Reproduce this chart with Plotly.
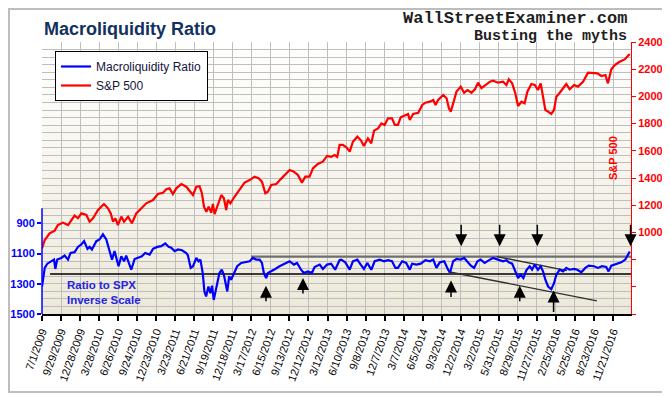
import plotly.graph_objects as go
from datetime import datetime

# ---------------- data ----------------
x_tick_labels = ["7/1/2009", "9/29/2009", "12/28/2009", "3/28/2010", "6/26/2010", "9/24/2010",
                 "12/23/2010", "3/23/2011", "6/21/2011", "9/19/2011", "12/18/2011", "3/17/2012",
                 "6/15/2012", "9/13/2012", "12/12/2012", "3/12/2013", "6/10/2013", "9/8/2013",
                 "12/7/2013", "3/7/2014", "6/5/2014", "9/3/2014", "12/2/2014", "3/2/2015",
                 "5/31/2015", "8/29/2015", "11/27/2015", "2/25/2016", "5/25/2016", "8/23/2016",
                 "11/21/2016"]

ratio_tick_vals = [900, 1100, 1300, 1500]
spx_tick_vals = [400, 600, 800, 1000, 1200, 1400, 1600, 1800, 2000, 2200, 2400]
spx_tick_text = ["", "", "", "1000", "1200", "1400", "1600", "1800", "2000", "2200", "2400"]

spx_dates = [
    "2009-07-01", "2009-07-14", "2009-08-06", "2009-08-30", "2009-09-14", "2009-10-08", "2009-11-01",
    "2009-11-16", "2009-12-02", "2009-12-18", "2010-01-03", "2010-01-27", "2010-02-11", "2010-02-27",
    "2010-03-23", "2010-04-20", "2010-05-09", "2010-05-22", "2010-06-02", "2010-06-13", "2010-06-25",
    "2010-07-11", "2010-07-24", "2010-08-12", "2010-08-30", "2010-09-20", "2010-10-14", "2010-11-06",
    "2010-12-08", "2010-12-31", "2011-01-24", "2011-02-09", "2011-02-24", "2011-03-12", "2011-03-28",
    "2011-04-21", "2011-05-14", "2011-06-04", "2011-06-15", "2011-07-01", "2011-07-16", "2011-07-27",
    "2011-08-06", "2011-08-17", "2011-08-28", "2011-09-09", "2011-09-17", "2011-09-25", "2011-10-11",
    "2011-10-27", "2011-11-08", "2011-11-19", "2011-11-27", "2011-12-09", "2011-12-28", "2012-01-21",
    "2012-02-14", "2012-03-09", "2012-04-01", "2012-04-20", "2012-05-06", "2012-05-22", "2012-06-03",
    "2012-06-19", "2012-07-13", "2012-08-02", "2012-08-24", "2012-09-14", "2012-10-04", "2012-10-23",
    "2012-11-11", "2012-11-27", "2012-12-17", "2013-01-02", "2013-01-25", "2013-02-18", "2013-03-10",
    "2013-03-29", "2013-04-14", "2013-04-27", "2013-05-08", "2013-05-24", "2013-06-09", "2013-06-25",
    "2013-07-10", "2013-07-31", "2013-08-16", "2013-08-31", "2013-09-19", "2013-10-05", "2013-10-18",
    "2013-11-06", "2013-11-22", "2013-12-07", "2013-12-23", "2014-01-11", "2014-01-24", "2014-02-08",
    "2014-02-21", "2014-03-09", "2014-03-28", "2014-04-05", "2014-04-21", "2014-05-15", "2014-06-03",
    "2014-06-18", "2014-07-09", "2014-07-25", "2014-08-05", "2014-08-17", "2014-09-10", "2014-09-26",
    "2014-10-07", "2014-10-16", "2014-10-27", "2014-11-12", "2014-12-02", "2014-12-18", "2015-01-03",
    "2015-01-22", "2015-02-07", "2015-02-22", "2015-03-10", "2015-04-03", "2015-04-19", "2015-05-04",
    "2015-05-27", "2015-06-20", "2015-07-06", "2015-07-17", "2015-08-02", "2015-08-17", "2015-08-30",
    "2015-09-15", "2015-09-30", "2015-10-13", "2015-11-01", "2015-11-17", "2015-12-02", "2015-12-15",
    "2015-12-26", "2016-01-06", "2016-01-19", "2016-02-03", "2016-02-16", "2016-02-27", "2016-03-14",
    "2016-03-30", "2016-04-14", "2016-04-30", "2016-05-21", "2016-06-08", "2016-07-02", "2016-07-26",
    "2016-08-18", "2016-09-08", "2016-09-27", "2016-10-16", "2016-10-28", "2016-11-13", "2016-11-29",
    "2016-12-22", "2017-01-15", "2017-02-08"]
spx_values = [
    883, 944, 993, 1013, 1054, 1072, 1054,
    1091, 1123, 1104, 1140, 1128, 1079, 1104,
    1165, 1209, 1177, 1140, 1079, 1104, 1054,
    1116, 1079, 1116, 1067, 1140, 1177, 1214,
    1238, 1282, 1292, 1317, 1324, 1282, 1324,
    1356, 1336, 1299, 1275, 1336, 1340, 1288,
    1189, 1152, 1189, 1145, 1209, 1135, 1201,
    1275, 1251, 1165, 1238, 1214, 1262, 1312,
    1366, 1385, 1410, 1398, 1373, 1288, 1299,
    1349, 1356, 1390, 1422, 1459, 1447, 1422,
    1366, 1410, 1410, 1471, 1503, 1520, 1562,
    1555, 1569, 1555, 1643, 1643, 1626, 1594,
    1667, 1704, 1679, 1635, 1692, 1655, 1748,
    1765, 1802, 1790, 1839, 1839, 1790, 1790,
    1846, 1856, 1871, 1826, 1871, 1880, 1937,
    1954, 1961, 1974, 1937, 1974, 2010, 1986,
    1912, 1888, 1949, 2035, 2072, 2027, 2047,
    2027, 2052, 2101, 2060, 2091, 2108, 2116,
    2101, 2108, 2084, 2126, 2096, 2023, 1929,
    1961, 1949, 2035, 2091, 2084, 2047, 2096,
    2010, 1900, 1888, 1871, 1900, 1998, 2027,
    2060, 2091, 2052, 2084, 2072, 2108, 2175,
    2175, 2170, 2150, 2157, 2096, 2199, 2231,
    2255, 2272, 2312]

ratio_dates = [
    "2009-07-01", "2009-07-06", "2009-07-14", "2009-07-26", "2009-08-11", "2009-08-27", "2009-09-02",
    "2009-09-11", "2009-09-30", "2009-10-16", "2009-11-01", "2009-11-13", "2009-12-02", "2009-12-18",
    "2010-01-03", "2010-01-16", "2010-02-01", "2010-02-11", "2010-02-22", "2010-03-15", "2010-03-30",
    "2010-04-15", "2010-05-01", "2010-05-17", "2010-05-28", "2010-06-09", "2010-06-22", "2010-06-28",
    "2010-07-11", "2010-07-24", "2010-08-03", "2010-08-14", "2010-08-27", "2010-09-12", "2010-09-28",
    "2010-10-16", "2010-11-01", "2010-11-22", "2010-12-08", "2010-12-28", "2011-01-16", "2011-02-04",
    "2011-02-20", "2011-03-04", "2011-03-20", "2011-04-05", "2011-04-24", "2011-05-14", "2011-05-22",
    "2011-06-04", "2011-06-15", "2011-07-01", "2011-07-11", "2011-07-20", "2011-07-31", "2011-08-08",
    "2011-08-16", "2011-08-27", "2011-09-05", "2011-09-13", "2011-09-21", "2011-10-02", "2011-10-18",
    "2011-10-29", "2011-11-08", "2011-11-24", "2011-12-03", "2011-12-12", "2011-12-25", "2012-01-10",
    "2012-01-29", "2012-02-17", "2012-03-09", "2012-03-24", "2012-04-09", "2012-04-25", "2012-05-06",
    "2012-05-15", "2012-05-26", "2012-06-03", "2012-06-19", "2012-07-08", "2012-07-28", "2012-08-21",
    "2012-09-14", "2012-10-04", "2012-10-19", "2012-11-07", "2012-11-20", "2012-12-09", "2012-12-28",
    "2013-01-10", "2013-02-03", "2013-02-18", "2013-03-10", "2013-03-29", "2013-04-17", "2013-05-08",
    "2013-05-16", "2013-06-04", "2013-06-25", "2013-07-10", "2013-07-31", "2013-08-16", "2013-08-31",
    "2013-09-16", "2013-10-05", "2013-10-21", "2013-11-14", "2013-12-04", "2013-12-23", "2014-01-11",
    "2014-01-27", "2014-02-08", "2014-02-28", "2014-03-19", "2014-04-05", "2014-04-16", "2014-05-06",
    "2014-05-27", "2014-06-18", "2014-07-09", "2014-07-25", "2014-08-09", "2014-08-25", "2014-09-15",
    "2014-10-03", "2014-10-13", "2014-10-27", "2014-11-12", "2014-12-02", "2014-12-18", "2015-01-03",
    "2015-01-19", "2015-02-03", "2015-02-19", "2015-03-06", "2015-03-25", "2015-04-19", "2015-05-04",
    "2015-05-27", "2015-06-20", "2015-07-06", "2015-07-17", "2015-08-02", "2015-08-17", "2015-08-30",
    "2015-09-11", "2015-09-24", "2015-10-08", "2015-10-24", "2015-11-04", "2015-11-17", "2015-12-02",
    "2015-12-15", "2015-12-26", "2016-01-06", "2016-01-19", "2016-02-03", "2016-02-16", "2016-02-27",
    "2016-03-14", "2016-03-30", "2016-04-14", "2016-04-30", "2016-05-21", "2016-06-05", "2016-06-24",
    "2016-07-13", "2016-07-29", "2016-08-23", "2016-09-11", "2016-09-30", "2016-10-20", "2016-10-31",
    "2016-11-13", "2016-12-07", "2016-12-30", "2017-01-18", "2017-02-08"]
ratio_values = [
    1318, 1273, 1195, 1167, 1151, 1140, 1202,
    1140, 1129, 1113, 1140, 1096, 1091, 1056,
    1040, 1018, 1069, 1056, 1073, 1018, 1007,
    973, 1007, 1096, 1140, 1084, 1151, 1184,
    1118, 1151, 1113, 1151, 1207, 1136, 1129,
    1118, 1096, 1107, 1069, 1056, 1051, 1033,
    1056, 1062, 1084, 1073, 1078, 1096, 1113,
    1195, 1184, 1129, 1151, 1140, 1229, 1351,
    1384, 1318, 1362, 1313, 1407, 1340, 1229,
    1207, 1240, 1351, 1251, 1273, 1229, 1184,
    1162, 1158, 1151, 1129, 1140, 1140, 1162,
    1229, 1262, 1229, 1218, 1202, 1184, 1167,
    1151, 1173, 1162, 1207, 1229, 1218, 1229,
    1189, 1173, 1202, 1173, 1167, 1207, 1144,
    1140, 1158, 1207, 1151, 1140, 1173, 1202,
    1162, 1207, 1151, 1140, 1151, 1144, 1151,
    1195, 1195, 1151, 1162, 1207, 1167, 1173,
    1167, 1144, 1151, 1140, 1195, 1158, 1151,
    1207, 1224, 1151, 1136, 1140, 1129, 1158,
    1180, 1195, 1151, 1140, 1162, 1140, 1129,
    1140, 1151, 1144, 1158, 1167, 1218, 1262,
    1240, 1262, 1211, 1184, 1207, 1173, 1207,
    1184, 1218, 1273, 1318, 1336, 1296, 1240,
    1207, 1218, 1195, 1207, 1202, 1207, 1224,
    1195, 1180, 1184, 1195, 1184, 1189, 1218,
    1180, 1167, 1158, 1140, 1087]

# hand-drawn reference lines (in ratio units)
support_dates = ["2009-08-08", "2017-02-14"]
support_values = [1235, 1235]
resist_dates = ["2012-03-15", "2017-02-14"]
resist_values = [1120, 1120]
lower_trend_dates = ["2014-10-04", "2016-09-06"]
lower_trend_values = [1220, 1413]
upper_trend_dates = ["2015-05-22", "2016-04-17"]
upper_trend_values = [1120, 1213]

down_arrow_dates = ["2014-12-04", "2015-06-04", "2015-11-29", "2017-02-12"]
down_arrow_values = [1051, 1051, 1051, 1051]
up_arrow_dates = ["2012-05-25", "2012-11-16", "2014-10-17", "2015-09-07", "2016-02-14"]
up_arrow_values = [1313, 1262, 1278, 1313, 1345]

# ---------------- figure ----------------
FONT = "Arial, Liberation Sans, sans-serif"
fig = go.Figure()

fig.add_trace(go.Scatter(x=resist_dates, y=resist_values, mode="lines", yaxis="y",
                         line=dict(color="#6E6E6E", width=2.2), showlegend=False, hoverinfo="skip"))
fig.add_trace(go.Scatter(x=support_dates, y=support_values, mode="lines", yaxis="y",
                         line=dict(color="black", width=1.4), showlegend=False, hoverinfo="skip"))
fig.add_trace(go.Scatter(x=lower_trend_dates, y=lower_trend_values, mode="lines", yaxis="y",
                         line=dict(color="#303030", width=1.4), showlegend=False, hoverinfo="skip"))
fig.add_trace(go.Scatter(x=upper_trend_dates, y=upper_trend_values, mode="lines", yaxis="y",
                         line=dict(color="#303030", width=1.4), showlegend=False, hoverinfo="skip"))

fig.add_trace(go.Scatter(x=ratio_dates, y=ratio_values, mode="lines", name="Macroliquidity Ratio",
                         yaxis="y", line=dict(color="#0000FF", width=2.2)))
fig.add_trace(go.Scatter(x=spx_dates, y=spx_values, mode="lines", name="S&P 500",
                         yaxis="y2", line=dict(color="#FF0000", width=2.2)))

# page offset: the html body adds an 8px margin, layout numbers below are page pixels
OFF = 8
PL, PR, PT, PB = 42, 631, 42, 314          # plot area in page pixels
PW, PH = PR - PL, PB - PT


def px(xp):
    return (xp - PL) / PW


def py(yp):
    return (PB - yp) / PH


shapes = []
N = 30
top = (255, 255, 255)
bot = (237, 233, 217)
for i in range(N):
    t = (i + 0.5) / N
    c = tuple(round(top[k] + (bot[k] - top[k]) * t) for k in range(3))
    shapes.append(dict(type="rect", xref="paper", yref="paper", x0=0, x1=1,
                       y0=1 - (i + 1) / N, y1=1 - i / N, layer="below",
                       fillcolor="rgb(%d,%d,%d)" % c, line=dict(width=0)))
# left (ratio) axis line, only over the labelled part
shapes.append(dict(type="line", xref="paper", yref="y", x0=0, x1=0, y0=800, y1=1500,
                   line=dict(color="#0000FF", width=1.5)))
# outer frame
shapes.append(dict(type="rect", xref="paper", yref="paper",
                   x0=px(9), x1=px(664), y0=py(392), y1=py(9),
                   line=dict(color="#BDBDBD", width=2), fillcolor="rgba(0,0,0,0)"))

annotations = []
for d, v in zip(down_arrow_dates, down_arrow_values):
    annotations.append(dict(x=d, y=v, xref="x", yref="y", text="", showarrow=True,
                            ax=0, ay=-23, arrowhead=2, arrowsize=1.6, arrowwidth=1.5,
                            arrowcolor="black"))
for d, v, off in zip(up_arrow_dates, up_arrow_values, [17, 17, 18, 17, 23]):
    annotations.append(dict(x=d, y=v, xref="x", yref="y", text="", showarrow=True,
                            ax=0, ay=off, arrowhead=2, arrowsize=1.6, arrowwidth=1.5,
                            arrowcolor="black"))

annotations.append(dict(text="<b>Ratio to SPX<br>Inverse Scale</b>", xref="paper", yref="paper",
                        x=px(65), y=py(292.5), xanchor="left", yanchor="middle",
                        align="left", showarrow=False,
                        font=dict(family=FONT, size=11.5, color="#2424E0")))
annotations.append(dict(text="<b>S&P 500</b>", xref="paper", yref="paper",
                        x=px(613), y=py(158), xanchor="center", yanchor="middle",
                        textangle=-90, showarrow=False,
                        font=dict(family=FONT, size=11, color="#FF0000")))
annotations.append(dict(text="<b>WallStreetExaminer.com</b>", xref="paper", yref="paper",
                        x=px(629), y=py(18), xanchor="right", yanchor="middle",
                        showarrow=False,
                        font=dict(family="Liberation Mono, DejaVu Sans Mono, monospace", size=17,
                                  color="#1E1E1E")))
annotations.append(dict(text="<b>Busting the myths</b>", xref="paper", yref="paper",
                        x=px(629), y=py(36), xanchor="right", yanchor="middle",
                        showarrow=False,
                        font=dict(family="Liberation Mono, DejaVu Sans Mono, monospace", size=15,
                                  color="#1E1E1E")))

tick_dates = [datetime.strptime(s, "%m/%d/%Y") for s in x_tick_labels]

W, H = 670, 396
fig.update_layout(
    width=W, height=H,
    margin=dict(l=PL - OFF, r=W + OFF - PR, t=PT - OFF, b=H + OFF - PB, autoexpand=False),
    paper_bgcolor="white", plot_bgcolor="white",
    title=dict(text="<b>Macroliquidity Ratio</b>", x=(44 - OFF) / W, xanchor="left",
               y=1 - (29 - OFF) / H, yanchor="middle", xref="container", yref="container",
               font=dict(family=FONT, size=18, color="#12315E")),
    showlegend=True,
    legend=dict(x=px(55), y=py(51), xanchor="left", yanchor="top",
                bgcolor="white", bordercolor="black", borderwidth=1,
                font=dict(family=FONT, size=12, color="#14143C"), tracegroupgap=0),
    xaxis=dict(type="date", range=["2009-07-01", "2017-02-14"], tickmode="array",
               tickvals=tick_dates, ticktext=x_tick_labels, tickangle=-70,
               tickfont=dict(family=FONT, size=11, color="black"),
               ticks="outside", ticklen=5, tickwidth=1.5, tickcolor="black",
               showline=True, linecolor="black", linewidth=2,
               showgrid=True, gridcolor="#BEBEBE", gridwidth=1, zeroline=False),
    yaxis=dict(range=[1500, -300], tickmode="array", tickvals=ratio_tick_vals,
               tickfont=dict(family=FONT, size=11, color="#0000FF", weight="bold"),
               ticks="outside", ticklen=4, tickcolor="#0000FF", tickwidth=1.5,
               showgrid=False, showline=False, zeroline=False,
               minor=dict(tickmode="linear", tick0=0, dtick=50, showgrid=True,
                          gridcolor="#BEBEBE", gridwidth=1, ticks="")),
    yaxis2=dict(range=[400, 2400], overlaying="y", side="right", anchor="x",
                tickmode="array", tickvals=spx_tick_vals, ticktext=spx_tick_text,
                tickfont=dict(family=FONT, size=11, color="#FF0000", weight="bold"),
                ticks="outside", ticklen=4, tickcolor="#FF0000",
                showgrid=False, showline=True, linecolor="#FF0000", linewidth=1,
                zeroline=False),
    shapes=shapes,
    annotations=annotations,
)

fig.write_html("out.html")
